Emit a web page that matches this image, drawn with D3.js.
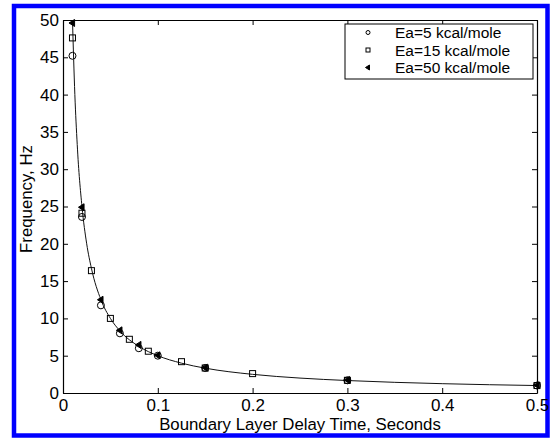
<!DOCTYPE html>
<html>
<head>
<meta charset="utf-8">
<script src="https://cdn.jsdelivr.net/npm/d3@7"></script>
<style>
  body { margin: 0; background: #fff; }
  svg { display: block; font-family: "Liberation Sans", Arial, sans-serif; }
</style>
</head>
<body>
<svg width="550" height="444"></svg>
<script>
// data
let xTicks = [0, 0.1, 0.2, 0.3, 0.4, 0.5];
let yTicks = [0, 5, 10, 15, 20, 25, 30, 35, 40, 45, 50];

let ea5Time = [0.01, 0.02, 0.04, 0.06, 0.08, 0.1, 0.15, 0.3, 0.5];
let ea5Freq = [45.2, 23.6, 11.75, 8.0, 6.0, 5.0, 3.35, 1.7, 1.0];

let ea15Time = [0.01, 0.02, 0.03, 0.05, 0.07, 0.09, 0.125, 0.15, 0.2, 0.3, 0.5];
let ea15Freq = [47.6, 24.1, 16.4, 10.0, 7.2, 5.6, 4.2, 3.35, 2.6, 1.7, 1.0];

let ea50Time = [0.01, 0.02, 0.04, 0.06, 0.08, 0.1, 0.15, 0.3, 0.5];
let ea50Freq = [49.6, 24.9, 12.5, 8.4, 6.45, 5.05, 3.4, 1.75, 1.05];

let fitTime = [0.01, 0.0125, 0.015, 0.02, 0.025, 0.03, 0.04, 0.05, 0.06, 0.08, 0.1, 0.125, 0.15, 0.2, 0.25, 0.3, 0.4, 0.5];
let fitFreq = [50, 40, 33.3, 25, 20, 16.7, 12.5, 10, 8.33, 6.25, 5, 4, 3.33, 2.5, 2, 1.67, 1.25, 1.0];

let legendLabels = ["Ea=5 kcal/mole", "Ea=15 kcal/mole", "Ea=50 kcal/mole"];

let svg = d3.select("svg");

// blue frame around the whole figure
svg.append("rect")
    .attr("x", 14).attr("y", 6)
    .attr("width", 533.5).attr("height", 429.5)
    .attr("fill", "none")
    .attr("stroke", "#0000ff")
    .attr("stroke-width", 4.5);

let plotLeft = 63, plotRight = 537, plotTop = 20, plotBottom = 393;
let x = d3.scaleLinear().domain([0, 0.5]).range([plotLeft, plotRight]);
let y = d3.scaleLinear().domain([0, 50]).range([plotBottom, plotTop]);

let g = svg.append("g");

// axes with inward ticks on all sides
let tickLen = 5;
g.append("g").attr("transform", `translate(0,${plotBottom})`)
    .call(d3.axisBottom(x).tickValues(xTicks).tickSizeInner(-tickLen).tickSizeOuter(0)
        .tickPadding(6).tickFormat(d3.format("")));
g.append("g").attr("transform", `translate(0,${plotTop})`)
    .call(d3.axisTop(x).tickValues(xTicks).tickSizeInner(-tickLen).tickSizeOuter(0).tickFormat(""));
g.append("g").attr("transform", `translate(${plotLeft},0)`)
    .call(d3.axisLeft(y).tickValues(yTicks).tickSizeInner(-tickLen).tickSizeOuter(0)
        .tickPadding(4).tickFormat(d3.format("")));
g.append("g").attr("transform", `translate(${plotRight},0)`)
    .call(d3.axisRight(y).tickValues(yTicks).tickSizeInner(-tickLen).tickSizeOuter(0).tickFormat(""));

g.selectAll(".domain").attr("stroke", "#000").attr("stroke-width", 1.2);
g.selectAll(".tick line").attr("stroke", "#000");
g.selectAll(".tick text")
    .attr("font-size", 17)
    .attr("font-family", "Liberation Sans, Arial, sans-serif")
    .attr("fill", "#000");

// fitted curve
let line = d3.line()
    .x((d, i) => x(fitTime[i]))
    .y(d => y(d))
    .curve(d3.curveMonotoneX);
g.append("path")
    .datum(fitFreq)
    .attr("d", line)
    .attr("fill", "none")
    .attr("stroke", "#111")
    .attr("stroke-width", 1);

// markers
function circleMark(sel, cx, cy, r) {
    sel.append("circle").attr("cx", cx).attr("cy", cy).attr("r", r)
        .attr("fill", "none").attr("stroke", "#000").attr("stroke-width", 1);
}
function squareMark(sel, cx, cy, s) {
    sel.append("rect").attr("x", cx - s / 2).attr("y", cy - s / 2)
        .attr("width", s).attr("height", s)
        .attr("fill", "none").attr("stroke", "#000").attr("stroke-width", 1);
}
function triMark(sel, cx, cy, s) {
    sel.append("path")
        .attr("d", `M${cx - s},${cy} L${cx + s * 0.6},${cy - s} L${cx + s * 0.6},${cy + s} Z`)
        .attr("fill", "#000").attr("stroke", "#000").attr("stroke-width", 1);
}

let marks = g.append("g");
ea5Freq.forEach((f, i) => circleMark(marks, x(ea5Time[i]), y(f), 3.5));
ea15Freq.forEach((f, i) => squareMark(marks, x(ea15Time[i]), y(f), 6));
ea50Freq.forEach((f, i) => triMark(marks, x(ea50Time[i]), y(f), 3.5));

// axis labels
svg.append("text")
    .attr("x", 300).attr("y", 430)
    .attr("text-anchor", "middle")
    .attr("font-size", 16.8)
    .text("Boundary Layer Delay Time, Seconds");
svg.append("text")
    .attr("transform", "translate(32,199) rotate(-90)")
    .attr("text-anchor", "middle")
    .attr("font-size", 16.8)
    .text("Frequency, Hz");

// legend
let lg = svg.append("g");
lg.append("rect")
    .attr("x", 345).attr("y", 24).attr("width", 188).attr("height", 55)
    .attr("fill", "#fff").attr("stroke", "#000").attr("stroke-width", 1);
let rowY = [32.5, 50, 67.5];
circleMark(lg, 368, rowY[0], 2);
squareMark(lg, 368, rowY[1], 4);
triMark(lg, 368, rowY[2], 2.5);
legendLabels.forEach((t, i) => {
    lg.append("text")
        .attr("x", 395).attr("y", rowY[i] + 5.5)
        .attr("font-size", 15.5)
        .text(t);
});
</script>
</body>
</html>
